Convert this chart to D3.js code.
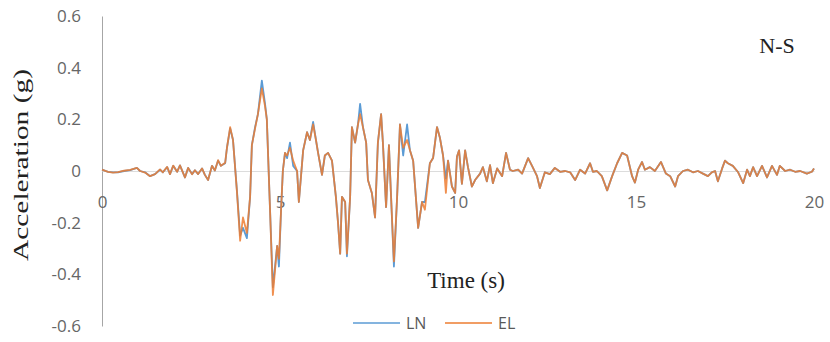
<!DOCTYPE html>
<html>
<head>
<meta charset="utf-8">
<script src="https://cdn.jsdelivr.net/npm/d3@7"></script>
<style>
  html, body { margin: 0; padding: 0; background: #fff; }
  svg { display: block; }
</style>
</head>
<body>
<svg id="chart" width="830" height="342"></svg>
<script>
// ---- data ----
const time = [
  0.00,0.17,0.31,0.45,0.62,0.79,0.98,1.07,1.21,1.35,
  1.49,1.63,1.71,1.83,1.91,2.00,2.11,2.19,2.33,2.42,
  2.53,2.61,2.70,2.81,2.89,2.98,3.09,3.17,3.26,3.34,
  3.46,3.51,3.60,3.68,3.79,3.88,3.96,4.07,4.16,4.21,
  4.30,4.38,4.49,4.58,4.63,4.72,4.80,4.92,4.97,5.03,
  5.08,5.14,5.20,5.28,5.37,5.48,5.53,5.65,5.76,5.84,
  5.93,6.01,6.07,6.18,6.26,6.35,6.46,6.57,6.63,6.69,
  6.74,6.83,6.88,6.97,7.02,7.11,7.19,7.25,7.33,7.42,
  7.47,7.58,7.67,7.75,7.84,7.89,7.98,8.06,8.12,8.20,
  8.29,8.37,8.46,8.57,8.65,8.74,8.88,8.99,9.07,9.21,
  9.30,9.41,9.49,9.58,9.66,9.72,9.83,9.92,9.97,10.03,
  10.11,10.20,10.28,10.39,10.48,10.62,10.70,10.81,10.90,10.98,
  11.10,11.24,11.35,11.46,11.54,11.69,11.80,11.97,12.08,12.22,
  12.30,12.44,12.58,12.72,12.87,13.01,13.15,13.29,13.43,13.57,
  13.71,13.79,13.90,14.04,14.19,14.33,14.47,14.61,14.75,14.89,
  14.97,15.06,15.17,15.25,15.39,15.53,15.70,15.84,15.96,16.10,
  16.18,16.32,16.46,16.60,16.74,16.88,17.02,17.13,17.22,17.30,
  17.42,17.50,17.58,17.72,17.87,18.01,18.12,18.20,18.29,18.40,
  18.54,18.68,18.82,18.96,19.04,19.19,19.33,19.47,19.61,19.80,
  19.94,20.00
];
const LN = [
  0.005,-0.003,-0.005,-0.005,0.000,0.003,0.012,0.000,-0.005,-0.020,
  -0.012,0.005,-0.005,0.015,-0.012,0.020,-0.003,0.022,-0.025,0.012,
  -0.012,0.003,-0.012,0.010,-0.015,-0.035,0.020,0.002,0.040,0.020,
  0.030,0.090,0.165,0.120,-0.075,-0.250,-0.220,-0.260,-0.100,0.100,
  0.170,0.220,0.350,0.260,0.200,-0.150,-0.450,-0.290,-0.370,-0.150,
  0.000,0.070,0.050,0.110,0.020,0.000,-0.120,0.080,0.150,0.120,
  0.190,0.120,0.070,-0.015,0.060,0.070,0.040,-0.100,-0.200,-0.320,
  -0.100,-0.120,-0.330,-0.100,0.170,0.110,0.180,0.260,0.170,0.110,
  -0.035,-0.085,-0.180,0.110,0.220,0.110,-0.140,0.100,-0.100,-0.370,
  -0.100,0.180,0.060,0.180,0.080,0.040,-0.220,-0.120,-0.120,0.030,
  0.050,0.170,0.130,0.060,-0.030,0.040,-0.060,-0.085,0.055,0.080,
  -0.050,0.080,0.015,-0.060,-0.035,-0.010,0.015,-0.040,0.023,-0.047,
  0.010,-0.020,0.070,0.005,0.000,0.005,-0.010,0.050,0.020,-0.020,
  -0.066,-0.005,-0.012,0.012,-0.003,0.000,-0.005,-0.035,0.005,-0.010,
  0.030,-0.003,0.000,-0.020,-0.075,-0.020,0.030,0.070,0.060,-0.020,
  -0.045,0.005,0.035,0.005,0.015,0.000,0.035,-0.010,-0.020,-0.060,
  -0.020,0.000,0.005,-0.005,0.000,-0.010,-0.020,-0.005,0.000,-0.040,
  0.010,0.040,0.030,0.020,-0.005,-0.047,0.005,-0.020,0.015,-0.020,
  0.020,-0.025,0.020,-0.015,0.020,0.000,0.005,-0.003,0.000,-0.010,
  -0.003,0.010
];
const EL = [
  0.005,-0.003,-0.006,-0.004,0.001,0.004,0.012,0.000,-0.006,-0.020,
  -0.012,0.006,-0.005,0.016,-0.012,0.021,-0.003,0.022,-0.025,0.012,
  -0.013,0.003,-0.012,0.010,-0.015,-0.035,0.020,0.002,0.042,0.020,
  0.032,0.090,0.170,0.120,-0.080,-0.270,-0.180,-0.240,-0.100,0.100,
  0.165,0.220,0.320,0.250,0.200,-0.150,-0.480,-0.290,-0.340,-0.150,
  0.000,0.070,0.060,0.090,0.040,0.000,-0.120,0.080,0.150,0.120,
  0.180,0.120,0.070,-0.015,0.060,0.070,0.040,-0.100,-0.200,-0.320,
  -0.100,-0.120,-0.320,-0.100,0.170,0.110,0.180,0.220,0.170,0.110,
  -0.035,-0.085,-0.180,0.110,0.220,0.110,-0.140,0.100,-0.100,-0.350,
  -0.100,0.180,0.090,0.120,0.080,0.040,-0.220,-0.120,-0.150,0.030,
  0.050,0.170,0.130,0.060,-0.085,0.040,-0.060,-0.085,0.055,0.080,
  -0.050,0.080,0.015,-0.060,-0.035,-0.010,0.015,-0.040,0.023,-0.047,
  0.010,-0.020,0.070,0.005,0.000,0.005,-0.010,0.050,0.020,-0.020,
  -0.066,-0.005,-0.012,0.012,-0.003,0.000,-0.005,-0.035,0.005,-0.010,
  0.030,-0.003,0.000,-0.020,-0.075,-0.020,0.030,0.070,0.060,-0.020,
  -0.045,0.005,0.035,0.005,0.015,0.000,0.035,-0.010,-0.020,-0.060,
  -0.020,0.000,0.005,-0.005,0.000,-0.010,-0.020,-0.005,0.000,-0.040,
  0.010,0.040,0.030,0.020,-0.005,-0.047,0.005,-0.020,0.015,-0.020,
  0.020,-0.025,0.020,-0.015,0.020,0.000,0.005,-0.003,0.000,-0.010,
  -0.003,0.010
];
const xTicks = [0, 5, 10, 15, 20];
const yTicks = [-0.6, -0.4, -0.2, 0, 0.2, 0.4, 0.6];
const seriesNames = ["LN", "EL"];
const seriesColors = ["#5b9bd5", "#ed7d31"];
const xTitle = "Time (s)";
const yTitle = "Acceleration (g)";
const panelLabel = "N-S";

// ---- drawing ----
const svg = d3.select("#chart");
const x = d3.scaleLinear().domain([0, 20]).range([102, 814]);
const y = d3.scaleLinear().domain([-0.6, 0.6]).range([326, 16]);
const fmt = v => String(+v.toFixed(1));

// y axis
const yAxis = svg.append("g")
  .attr("transform", `translate(${x(0)},0)`)
  .call(d3.axisLeft(y).tickValues(yTicks).tickSize(0).tickSizeOuter(0).tickPadding(21).tickFormat(fmt));
yAxis.select(".domain").attr("stroke", "#a6a6a6").attr("stroke-width", 1);
yAxis.selectAll("text")
  .attr("font-family", "'Open Sans', sans-serif")
  .attr("font-size", 17).attr("fill", "#666");

// x axis at zero
const xAxis = svg.append("g")
  .attr("transform", `translate(0,${y(0)})`)
  .call(d3.axisBottom(x).tickValues(xTicks).tickSize(0).tickSizeOuter(0).tickPadding(25).tickFormat(d3.format("d")));
xAxis.select(".domain").attr("stroke", "#dcdcdc").attr("stroke-width", 1);
xAxis.selectAll("text")
  .attr("font-family", "'Open Sans', sans-serif")
  .attr("font-size", 17).attr("fill", "#666");

// series
const n = Math.min(time.length, LN.length, EL.length);
const idx = d3.range(n);
const seriesData = [LN, EL];
seriesData.forEach((vals, i) => {
  const line = d3.line().x(k => x(time[k])).y(k => y(vals[k]));
  svg.append("path")
    .datum(idx)
    .attr("d", line)
    .attr("fill", "none")
    .attr("stroke", seriesColors[i])
    .attr("stroke-width", 1.8)
    .attr("stroke-linejoin", "round")
    .attr("opacity", i === 1 ? 0.85 : 1);
});

// titles
svg.append("text")
  .attr("transform", `translate(28,${165}) rotate(-90)`)
  .attr("text-anchor", "middle")
  .attr("font-family", "'Liberation Serif', 'Times New Roman', serif")
  .attr("font-size", 21)
  .attr("fill", "#222")
  .attr("textLength", 192)
  .attr("lengthAdjust", "spacingAndGlyphs")
  .text(yTitle);

svg.append("text")
  .attr("x", 466).attr("y", 288)
  .attr("text-anchor", "middle")
  .attr("font-family", "'Liberation Serif', 'Times New Roman', serif")
  .attr("font-size", 23)
  .attr("fill", "#222")
  .text(xTitle);

svg.append("text")
  .attr("x", 777).attr("y", 53)
  .attr("text-anchor", "middle")
  .attr("font-family", "'Liberation Serif', 'Times New Roman', serif")
  .attr("font-size", 22)
  .attr("fill", "#222")
  .text(panelLabel);

// legend
const legendX = [353, 445];
seriesNames.forEach((name, i) => {
  const g = svg.append("g").attr("transform", `translate(${legendX[i]},323)`);
  g.append("line").attr("x1", 0).attr("x2", 47).attr("y1", 0).attr("y2", 0)
    .attr("stroke", seriesColors[i]).attr("stroke-width", 1.6);
  g.append("text").attr("x", 53).attr("y", 0).attr("dy", "0.35em")
    .attr("font-family", "'Open Sans', sans-serif")
    .attr("font-size", 16).attr("fill", "#595959")
    .text(name);
});
</script>
</body>
</html>
